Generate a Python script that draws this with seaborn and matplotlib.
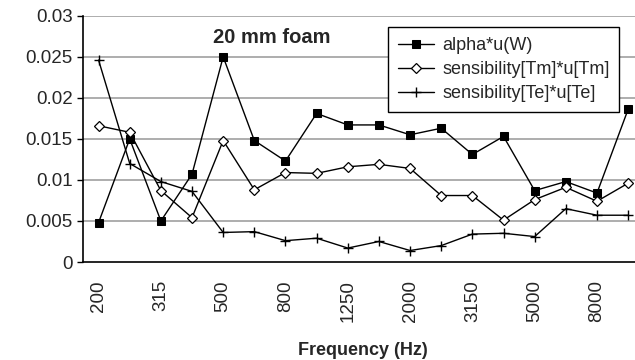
import numpy as np
import pandas as pd
import matplotlib
matplotlib.use("Agg")
import matplotlib.pyplot as plt
import seaborn as sns

# third-octave bands (Hz)
freqs = [200, 250, 315, 400, 500, 630, 800, 1000, 1250, 1600,
         2000, 2500, 3150, 4000, 5000, 6300, 8000, 10000]

alpha_uW = [0.0048, 0.0150, 0.0050, 0.0107, 0.0250, 0.0148, 0.0123, 0.0181, 0.0167,
            0.0167, 0.0155, 0.0163, 0.0131, 0.0153, 0.0087, 0.0098, 0.0084, 0.0186]
sens_Tm = [0.0166, 0.0158, 0.0087, 0.0054, 0.0148, 0.0088, 0.0109, 0.0108, 0.0116,
           0.0119, 0.0114, 0.0081, 0.0081, 0.0051, 0.0076, 0.0091, 0.0074, 0.0096]
sens_Te = [0.0246, 0.0120, 0.0098, 0.0086, 0.0036, 0.0037, 0.0026, 0.0029, 0.0017,
           0.0025, 0.0014, 0.0020, 0.0034, 0.0035, 0.0031, 0.0065, 0.0057, 0.0057]

labels = ["alpha*u(W)", "sensibility[Tm]*u[Tm]", "sensibility[Te]*u[Te]"]

sns.set_style("white")
plt.rcParams['font.family'] = ['Liberation Sans', 'DejaVu Sans']

fig = plt.figure(figsize=(6.35, 3.6), dpi=100)
ax = fig.add_axes([0.1307, 0.2722, 0.883, 0.684])

pos = np.arange(len(freqs))
df = pd.DataFrame({"pos": pos, labels[0]: alpha_uW, labels[1]: sens_Tm, labels[2]: sens_Te})

# grid first so it stays behind the lines
for v in np.arange(0.005, 0.0301, 0.005):
    ax.axhline(v, color="#a0a0a0", lw=1.2, zorder=0)

sns.lineplot(data=df, x="pos", y=labels[0], ax=ax, color="black", lw=1,
             marker="s", markersize=5.2, markerfacecolor="black",
             markeredgecolor="black", label=labels[0])
sns.lineplot(data=df, x="pos", y=labels[1], ax=ax, color="black", lw=1,
             marker="D", markersize=4.8, markerfacecolor="white",
             markeredgecolor="black", markeredgewidth=0.9, label=labels[1])
sns.lineplot(data=df, x="pos", y=labels[2], ax=ax, color="black", lw=1,
             marker="+", markersize=7, markeredgewidth=1,
             markeredgecolor="black", label=labels[2])

ax.set_xlim(-0.5, len(freqs) - 0.5)
ax.set_ylim(0, 0.03)
ax.set_yticks(np.arange(0, 0.0301, 0.005))
ax.set_yticklabels(["0", "0.005", "0.01", "0.015", "0.02", "0.025", "0.03"], fontsize=13.5)

ax.set_xticks(pos[::2])
ax.set_xticklabels([str(f) for f in freqs[::2]], rotation=90, fontsize=13.5)
ax.set_xticks(np.arange(-0.5, len(freqs)), minor=True)
ax.tick_params(axis="x", which="major", length=0, pad=13)
ax.tick_params(axis="x", which="minor", length=4.5, width=1, color="black", direction="out")
ax.tick_params(axis="y", length=4.5, width=1, color="black", direction="out", left=True, pad=3)

for s in ["top", "right"]:
    ax.spines[s].set_visible(False)
for s in ["left", "bottom"]:
    ax.spines[s].set_color("black")
    ax.spines[s].set_linewidth(1.2)

ax.set_xlabel("Frequency (Hz)", fontsize=13, fontweight="bold", labelpad=14)
ax.set_ylabel("")

ax.text(5.56, 0.0273, "20 mm foam", fontsize=14.5, fontweight="bold", ha="center", va="center")

leg = ax.legend(loc="upper left", bbox_to_anchor=(0.5437, 0.9545), borderaxespad=0,
                fontsize=13, frameon=True, fancybox=False, edgecolor="black",
                framealpha=1, handlelength=2.0, handletextpad=0.45,
                borderpad=0.55, labelspacing=0.4)
leg.get_frame().set_linewidth(1)

fig.savefig("out.png", dpi=100)
